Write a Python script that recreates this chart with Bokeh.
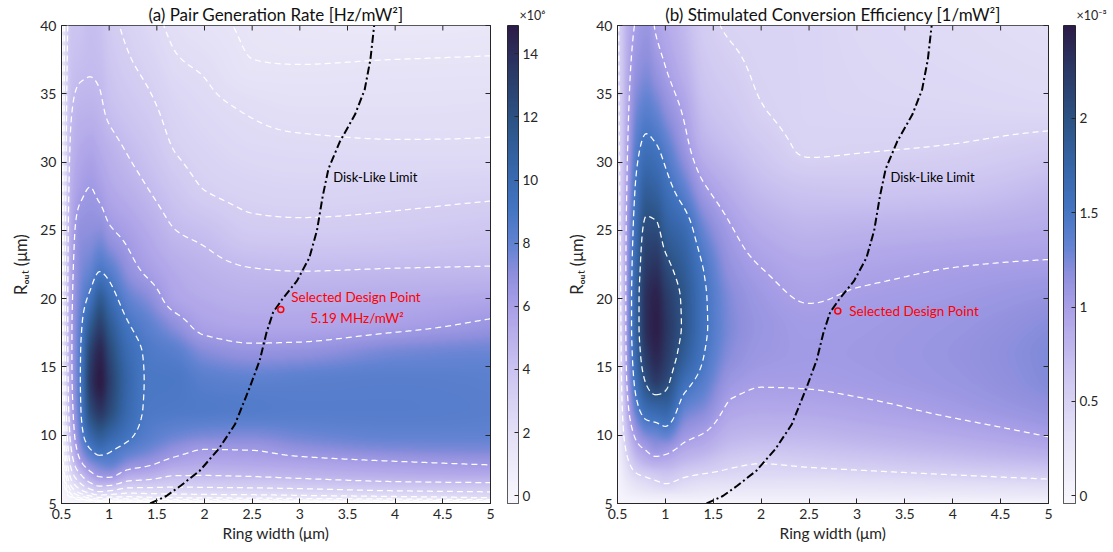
import numpy as np
import contourpy
from bokeh.plotting import figure
from bokeh.layouts import row
from bokeh.models import (LinearColorMapper, Range1d, Label, LinearAxis,
                          CustomJSTickFormatter, FixedTicker)
from bokeh.embed import file_html
from bokeh.resources import INLINE

# ---------------- data ----------------
ring_width = [0.5, 0.55, 0.6, 0.7, 0.8, 0.9, 1.0, 1.2, 1.4, 1.7, 2.0, 2.5, 3.0, 4.0, 5.0]
r_out = [5, 5.5, 6, 7, 8, 9, 10, 12, 14, 16, 18, 20, 22, 25, 28, 31, 34, 37, 40]

# pair generation rate (x1e6 Hz/mW^2); one list per ring width, values along r_out
pair_rate_w050 = [-0.25, -0.2, -0.15, 0.0, 0.2, 0.35, 0.5, 0.7, 0.85, 0.95, 1.0, 1.05, 1.05, 1.05, 1.0, 1.0, 0.95, 0.95, 0.9]
pair_rate_w055 = [-0.25, 0.15, 0.5, 1.2, 1.8, 2.3, 2.7, 3.2, 3.45, 3.6, 3.65, 3.65, 3.6, 3.5, 3.35, 3.2, 3.05, 2.9, 2.75]
pair_rate_w060 = [-0.25, 0.5, 1.2, 2.5, 3.6, 4.4, 5.0, 5.6, 5.9, 6.0, 6.0, 5.9, 5.8, 5.5, 5.1, 4.7, 4.35, 4.05, 3.8]
pair_rate_w070 = [-0.25, 1.0, 2.2, 4.2, 6.1, 7.3, 8.1, 8.8, 9.0, 8.9, 8.5, 7.9, 7.4, 6.9, 6.05, 5.4, 4.8, 4.3, 4.0]
pair_rate_w080 = [-0.2, 1.4, 3.0, 5.6, 7.4, 8.9, 10.3, 12.6, 13.6, 13.0, 11.4, 9.4, 8.0, 7.0, 6.35, 5.6, 4.85, 4.4, 4.3]
pair_rate_w090 = [-0.1, 1.8, 3.6, 6.4, 8.0, 9.7, 11.2, 13.8, 14.9, 14.4, 13.0, 11.2, 8.9, 7.1, 6.0, 5.25, 4.65, 4.3, 4.1]
pair_rate_w100 = [-0.1, 1.7, 3.4, 6.5, 8.2, 9.2, 10.5, 12.6, 13.2, 12.6, 11.4, 9.9, 8.4, 6.5, 5.5, 4.9, 4.2, 3.8, 3.5]
pair_rate_w120 = [-0.1, 1.6, 2.8, 5.3, 7.2, 8.4, 9.2, 10.0, 10.2, 9.8, 9.05, 8.0, 6.9, 5.9, 5.0, 4.35, 3.75, 3.3, 2.95]
pair_rate_w140 = [-0.1, 1.7, 2.8, 5.0, 6.7, 7.8, 8.4, 8.8, 8.85, 8.75, 8.2, 7.2, 6.1, 5.3, 4.5, 3.9, 3.4, 2.95, 2.55]
pair_rate_w170 = [-0.1, 1.8, 2.8, 4.4, 5.8, 6.9, 7.8, 8.7, 8.8, 8.3, 7.0, 5.7, 5.3, 4.47, 3.75, 3.1, 2.75, 2.35, 2.05]
pair_rate_w200 = [-0.1, 1.85, 2.85, 4.4, 5.5, 6.35, 7.5, 8.6, 8.3, 7.3, 5.9, 5.3, 4.9, 4.15, 3.15, 2.75, 2.45, 2.15, 1.75]
pair_rate_w250 = [-0.1, 1.9, 2.9, 4.5, 5.6, 6.4, 7.4, 8.5, 8.1, 6.8, 5.6, 5.05, 4.55, 3.45, 2.85, 2.45, 2.15, 1.62, 1.5]
pair_rate_w300 = [-0.1, 2.0, 3.0, 4.7, 5.8, 6.9, 7.7, 8.4, 8.2, 6.9, 5.6, 5.1, 4.47, 3.4, 2.75, 2.38, 2.0, 1.6, 1.35]
pair_rate_w400 = [-0.1, 2.2, 3.3, 5.1, 6.2, 7.4, 8.0, 8.4, 8.3, 7.6, 6.0, 5.3, 4.55, 3.5, 2.85, 2.32, 2.0, 1.65, 1.25]
pair_rate_w500 = [-0.1, 2.5, 3.4, 5.3, 6.5, 7.5, 8.0, 8.3, 8.2, 7.8, 6.6, 5.55, 4.6, 3.75, 2.95, 2.33, 2.05, 1.68, 1.32]

# stimulated conversion efficiency (x1e-3 1/mW^2)
conv_eff_w050 = [0.0, 0.0, 0.01, 0.02, 0.04, 0.06, 0.08, 0.12, 0.16, 0.2, 0.24, 0.28, 0.31, 0.35, 0.38, 0.4, 0.42, 0.43, 0.44]
conv_eff_w055 = [0.0, 0.03, 0.07, 0.15, 0.24, 0.32, 0.4, 0.5, 0.57, 0.6, 0.62, 0.63, 0.64, 0.65, 0.66, 0.66, 0.66, 0.66, 0.66]
conv_eff_w060 = [0.0, 0.06, 0.13, 0.28, 0.43, 0.57, 0.7, 0.9, 1.03, 1.1, 1.13, 1.13, 1.12, 1.08, 1.02, 0.97, 0.92, 0.88, 0.84]
conv_eff_w070 = [0.0, 0.1, 0.22, 0.45, 0.7, 0.9, 1.08, 1.42, 1.65, 1.78, 1.85, 1.85, 1.8, 1.7, 1.57, 1.42, 1.27, 1.13, 1.03]
conv_eff_w080 = [0.0, 0.13, 0.28, 0.52, 0.82, 1.03, 1.25, 1.68, 2.04, 2.25, 2.35, 2.34, 2.25, 2.08, 1.83, 1.58, 1.37, 1.2, 1.1]
conv_eff_w090 = [0.0, 0.15, 0.33, 0.58, 0.88, 1.13, 1.3, 1.75, 2.22, 2.4, 2.47, 2.44, 2.32, 2.07, 1.78, 1.53, 1.3, 1.1, 0.98]
conv_eff_w100 = [0.0, 0.15, 0.38, 0.62, 0.86, 1.1, 1.35, 1.78, 2.1, 2.25, 2.3, 2.25, 2.12, 1.85, 1.62, 1.4, 1.17, 1.0, 0.9]
conv_eff_w120 = [0.0, 0.15, 0.3, 0.52, 0.75, 0.92, 1.08, 1.35, 1.62, 1.85, 1.94, 1.93, 1.85, 1.66, 1.35, 1.09, 0.95, 0.82, 0.75]
conv_eff_w140 = [0.0, 0.13, 0.24, 0.46, 0.68, 0.85, 0.98, 1.23, 1.4, 1.51, 1.56, 1.55, 1.5, 1.3, 1.04, 0.82, 0.7, 0.62, 0.56]
conv_eff_w170 = [0.0, 0.12, 0.22, 0.42, 0.55, 0.7, 0.8, 0.95, 1.08, 1.18, 1.22, 1.2, 1.13, 1.01, 0.85, 0.7, 0.6, 0.53, 0.48]
conv_eff_w200 = [0.0, 0.12, 0.21, 0.4, 0.51, 0.66, 0.77, 0.92, 1.02, 1.08, 1.1, 1.07, 1.01, 0.88, 0.73, 0.6, 0.505, 0.48, 0.47]
conv_eff_w250 = [0.0, 0.12, 0.21, 0.4, 0.55, 0.68, 0.78, 0.93, 1.02, 1.05, 1.04, 0.99, 0.93, 0.8, 0.65, 0.48, 0.46, 0.46, 0.46]
conv_eff_w300 = [0.0, 0.13, 0.23, 0.42, 0.59, 0.72, 0.82, 0.96, 1.04, 1.06, 1.05, 1.02, 0.96, 0.82, 0.64, 0.49, 0.45, 0.44, 0.43]
conv_eff_w400 = [0.0, 0.15, 0.26, 0.48, 0.67, 0.8, 0.9, 1.04, 1.1, 1.12, 1.1, 1.06, 1.01, 0.85, 0.66, 0.51, 0.44, 0.41, 0.39]
conv_eff_w500 = [0.0, 0.18, 0.3, 0.55, 0.75, 0.9, 1.01, 1.15, 1.22, 1.23, 1.2, 1.13, 1.04, 0.9, 0.76, 0.58, 0.42, 0.38, 0.36]

pair_rate_levels = [0.398, 0.562, 0.794, 1.122, 1.585, 2.239, 3.162, 4.467, 6.310, 8.913]
conv_eff_levels = [0.5, 1.0, 1.5, 2.0]

disk_limit_width = [1.43, 1.6, 1.75, 1.95, 2.15, 2.32, 2.48, 2.58, 2.65, 2.72, 2.82, 2.97, 3.1,
                    3.18, 3.24, 3.3, 3.42, 3.58, 3.68, 3.74, 3.78]
disk_limit_rout = [5.0, 5.55, 6.3, 7.4, 9.0, 10.8, 13.6, 15.5, 17.5, 19.0, 20.0, 21.3, 23.0,
                   25.0, 27.5, 29.5, 31.5, 33.5, 35.3, 37.5, 40.0]

design_width = [2.8]
design_rout_a = [19.2]
design_rout_b = [19.1]

x_ticks = [0.5, 1, 1.5, 2, 2.5, 3, 3.5, 4, 4.5, 5]
y_ticks = [5, 10, 15, 20, 25, 30, 35, 40]
cbar_a_ticks = [0, 2, 4, 6, 8, 10, 12, 14]
cbar_b_ticks = [0, 0.5, 1, 1.5, 2]
cbar_a_range = (-0.25, 14.9)
cbar_b_range = (-0.04, 2.49)

pair_rate = np.array([pair_rate_w050, pair_rate_w055, pair_rate_w060, pair_rate_w070, pair_rate_w080,
                      pair_rate_w090, pair_rate_w100, pair_rate_w120, pair_rate_w140, pair_rate_w170,
                      pair_rate_w200, pair_rate_w250, pair_rate_w300, pair_rate_w400, pair_rate_w500]).T
conv_eff = np.array([conv_eff_w050, conv_eff_w055, conv_eff_w060, conv_eff_w070, conv_eff_w080,
                     conv_eff_w090, conv_eff_w100, conv_eff_w120, conv_eff_w140, conv_eff_w170,
                     conv_eff_w200, conv_eff_w250, conv_eff_w300, conv_eff_w400, conv_eff_w500]).T

# ---------------- styling ----------------
FONT = "Lato"
AX = "#262626"
H = 552
TOP, BOTTOM = 24, 49

anchors = [(0.00, "#f8f7fc"), (0.15, "#e3dff6"), (0.28, "#cbc3f0"), (0.41, "#a99fe7"),
           (0.48, "#8e8fdd"), (0.54, "#6283d2"), (0.62, "#4274c0"), (0.70, "#3766aa"),
           (0.80, "#2c5486"), (0.90, "#2b3b68"), (1.00, "#2c1d48")]


def hex2rgb(h):
    return [int(h[i:i + 2], 16) for i in (1, 3, 5)]


af = [a[0] for a in anchors]
ac = np.array([hex2rgb(a[1]) for a in anchors], float)
tt = np.linspace(0, 1, 256)
palette = ["#%02x%02x%02x" % tuple(int(round(np.interp(t, af, ac[:, k]))) for k in range(3)) for t in tt]


def pchip(xk, Y, xq):
    xk = np.asarray(xk, float)
    Y = np.asarray(Y, float)
    h = np.diff(xk)
    dl = np.diff(Y, axis=0) / h[:, None]
    n = len(xk)
    d = np.zeros_like(Y)
    for k in range(1, n - 1):
        w1 = 2 * h[k] + h[k - 1]
        w2 = h[k] + 2 * h[k - 1]
        a, b = dl[k - 1], dl[k]
        with np.errstate(divide="ignore", invalid="ignore"):
            hm = (w1 + w2) / (w1 / a + w2 / b)
        d[k] = np.where(a * b > 0, hm, 0.0)

    def end(h0, h1, d0, d1):
        dd = ((2 * h0 + h1) * d0 - h0 * d1) / (h0 + h1)
        dd = np.where(np.sign(dd) != np.sign(d0), 0.0, dd)
        dd = np.where((np.sign(d0) != np.sign(d1)) & (np.abs(dd) > np.abs(3 * d0)), 3 * d0, dd)
        return dd

    d[0] = end(h[0], h[1], dl[0], dl[1])
    d[-1] = end(h[-1], h[-2], dl[-1], dl[-2])
    idx = np.clip(np.searchsorted(xk, xq, side="right") - 1, 0, n - 2)
    t = ((xq - xk[idx]) / h[idx])[:, None]
    hh = h[idx][:, None]
    h00 = 2 * t ** 3 - 3 * t ** 2 + 1
    h10 = t ** 3 - 2 * t ** 2 + t
    h01 = -2 * t ** 3 + 3 * t ** 2
    h11 = t ** 3 - t ** 2
    return h00 * Y[idx] + h10 * hh * d[idx] + h01 * Y[idx + 1] + h11 * hh * d[idx + 1]


xf = np.linspace(0.5, 5, 431)
yf = np.linspace(5, 40, 480)


def smooth(Z):
    Zy = pchip(r_out, Z, yf)
    return pchip(ring_width, Zy.T, xf).T


def style_axis(ax, ticks, labels=True, size="14px"):
    ax.ticker = FixedTicker(ticks=ticks)
    ax.major_tick_in = 5
    ax.major_tick_out = 0
    ax.minor_tick_line_color = None
    ax.major_tick_line_color = AX
    ax.axis_line_color = AX
    ax.major_label_text_font = FONT
    ax.major_label_text_color = AX
    if labels:
        ax.major_label_text_font_size = size
        ax.formatter = CustomJSTickFormatter(code="return tick.toString();")
    else:
        ax.major_label_text_font_size = "1px"
        ax.major_label_standoff = 0
        ax.formatter = CustomJSTickFormatter(code="return '';")


def main_panel(width, left_px, Z, levels, lo, hi, title, design_rout, texts):
    pxy = (H - TOP - BOTTOM) / 35.0

    p = figure(width=width, height=H, x_range=Range1d(0.5, 5), y_range=Range1d(5, 40),
               toolbar_location=None, output_backend="svg", title=title,
               min_border_left=left_px, min_border_right=10,
               min_border_top=TOP, min_border_bottom=BOTTOM)
    p.grid.visible = False
    p.outline_line_color = AX
    p.outline_line_alpha = 1
    p.background_fill_color = "white"
    p.border_fill_color = "white"
    p.title.align = "center"
    p.title.text_font = FONT
    p.title.text_font_size = "17px"
    p.title.text_font_style = "normal"
    p.title.text_color = "#111111"
    p.title.standoff = 2

    mapper = LinearColorMapper(palette=palette, low=lo, high=hi)
    Zf = smooth(Z)
    p.image(image=[Zf], x=0.5, y=5, dw=4.5, dh=35, color_mapper=mapper)

    gen = contourpy.contour_generator(xf, yf, Zf, line_type="Separate")
    xs, ys = [], []
    for lev in levels:
        for seg in gen.lines(lev):
            if len(seg) > 1:
                xs.append(seg[:, 0].tolist())
                ys.append(seg[:, 1].tolist())
    p.multi_line(xs=xs, ys=ys, line_color="white", line_width=1.25, line_dash="6 4")

    p.line(disk_limit_width, disk_limit_rout, line_color="black", line_width=2, line_dash="8 3 2 3")
    p.scatter(design_width, design_rout, marker="circle", size=6, fill_color=None,
              line_color="#ff0000", line_width=1.5)

    # inward ticks along the top edge (box style)
    tick_len = 5.0 / pxy
    p.segment(x0=x_ticks, y0=[40] * len(x_ticks), x1=x_ticks, y1=[40 - tick_len] * len(x_ticks),
              line_color=AX, line_width=1)

    style_axis(p.xaxis[0], x_ticks)
    style_axis(p.yaxis[0], y_ticks)
    for ax, lab in ((p.xaxis[0], "Ring width (\u03bcm)"),
                    (p.yaxis[0], "R\u2092\u1d64\u209c (\u03bcm)")):
        ax.axis_label = lab
        ax.axis_label_text_font = FONT
        ax.axis_label_text_font_size = "15.5px"
        ax.axis_label_text_font_style = "normal"
        ax.axis_label_text_color = AX
    p.yaxis[0].axis_label_text_font_size = "16.5px"
    p.xaxis[0].axis_label_standoff = 2
    p.yaxis[0].axis_label_standoff = 6
    right_ax = LinearAxis()
    style_axis(right_ax, y_ticks, labels=False)
    p.add_layout(right_ax, "right")

    p.add_layout(Label(x=3.35, y=28.9, text="Disk-Like Limit", text_align="left", text_baseline="middle",
                       text_font=FONT, text_font_size="13px", text_color="black"))
    for (tx, ty, txt, al) in texts:
        p.add_layout(Label(x=tx, y=ty, text=txt, text_align=al, text_baseline="middle",
                           text_font=FONT, text_font_size="13.5px", text_color="#ff0000"))
    return p, mapper


def colorbar_panel(width, left_px, frame_w, mapper, lo, hi, ticks, exponent):
    cb = figure(width=width, height=H, x_range=Range1d(0, 1), y_range=Range1d(lo, hi),
                toolbar_location=None, output_backend="svg", title=exponent,
                x_axis_location=None, y_axis_location="right",
                min_border_left=left_px, min_border_right=width - left_px - frame_w,
                min_border_top=TOP, min_border_bottom=BOTTOM)
    cb.grid.visible = False
    cb.outline_line_color = AX
    cb.outline_line_alpha = 1
    cb.border_fill_color = "white"
    cb.title.align = "left"
    cb.title.offset = frame_w + 1
    cb.title.text_font = FONT
    cb.title.text_font_size = "12.5px"
    cb.title.text_font_style = "normal"
    cb.title.text_color = AX
    cb.title.standoff = 5
    grad = np.linspace(lo, hi, 400).reshape(-1, 1)
    cb.image(image=[grad], x=0, y=lo, dw=1, dh=hi - lo, color_mapper=mapper)
    ax = cb.yaxis[0]
    style_axis(ax, ticks, size="13.5px")
    ax.major_tick_in = 4
    ax.major_label_standoff = 4
    ax.axis_line_color = None
    return cb


lo_a, hi_a = cbar_a_range
lo_b, hi_b = cbar_b_range

p1, m1 = main_panel(500, 61, pair_rate, pair_rate_levels, lo_a, hi_a,
                    "(a) Pair Generation Rate [Hz/mW\u00b2]", design_rout_a,
                    [(2.91, 20.1, "Selected Design Point", "left"),
                     (3.6, 18.55, "5.19 MHz/mW\u00b2", "center")])
cb1 = colorbar_panel(60, 7, 11, m1, lo_a, hi_a, cbar_a_ticks, "\u00d710\u2076")
p2, m2 = main_panel(498, 57, conv_eff, conv_eff_levels, lo_b, hi_b,
                    "(b) Stimulated Conversion Efficiency [1/mW\u00b2]", design_rout_b,
                    [(2.92, 19.1, "Selected Design Point", "left")])
cb2 = colorbar_panel(55, 5, 12, m2, lo_b, hi_b, cbar_b_ticks, "\u00d710\u207b\u00b3")

layout = row(p1, cb1, p2, cb2)
open("out.html", "w").write(file_html(layout, INLINE, title="Ring design maps"))
